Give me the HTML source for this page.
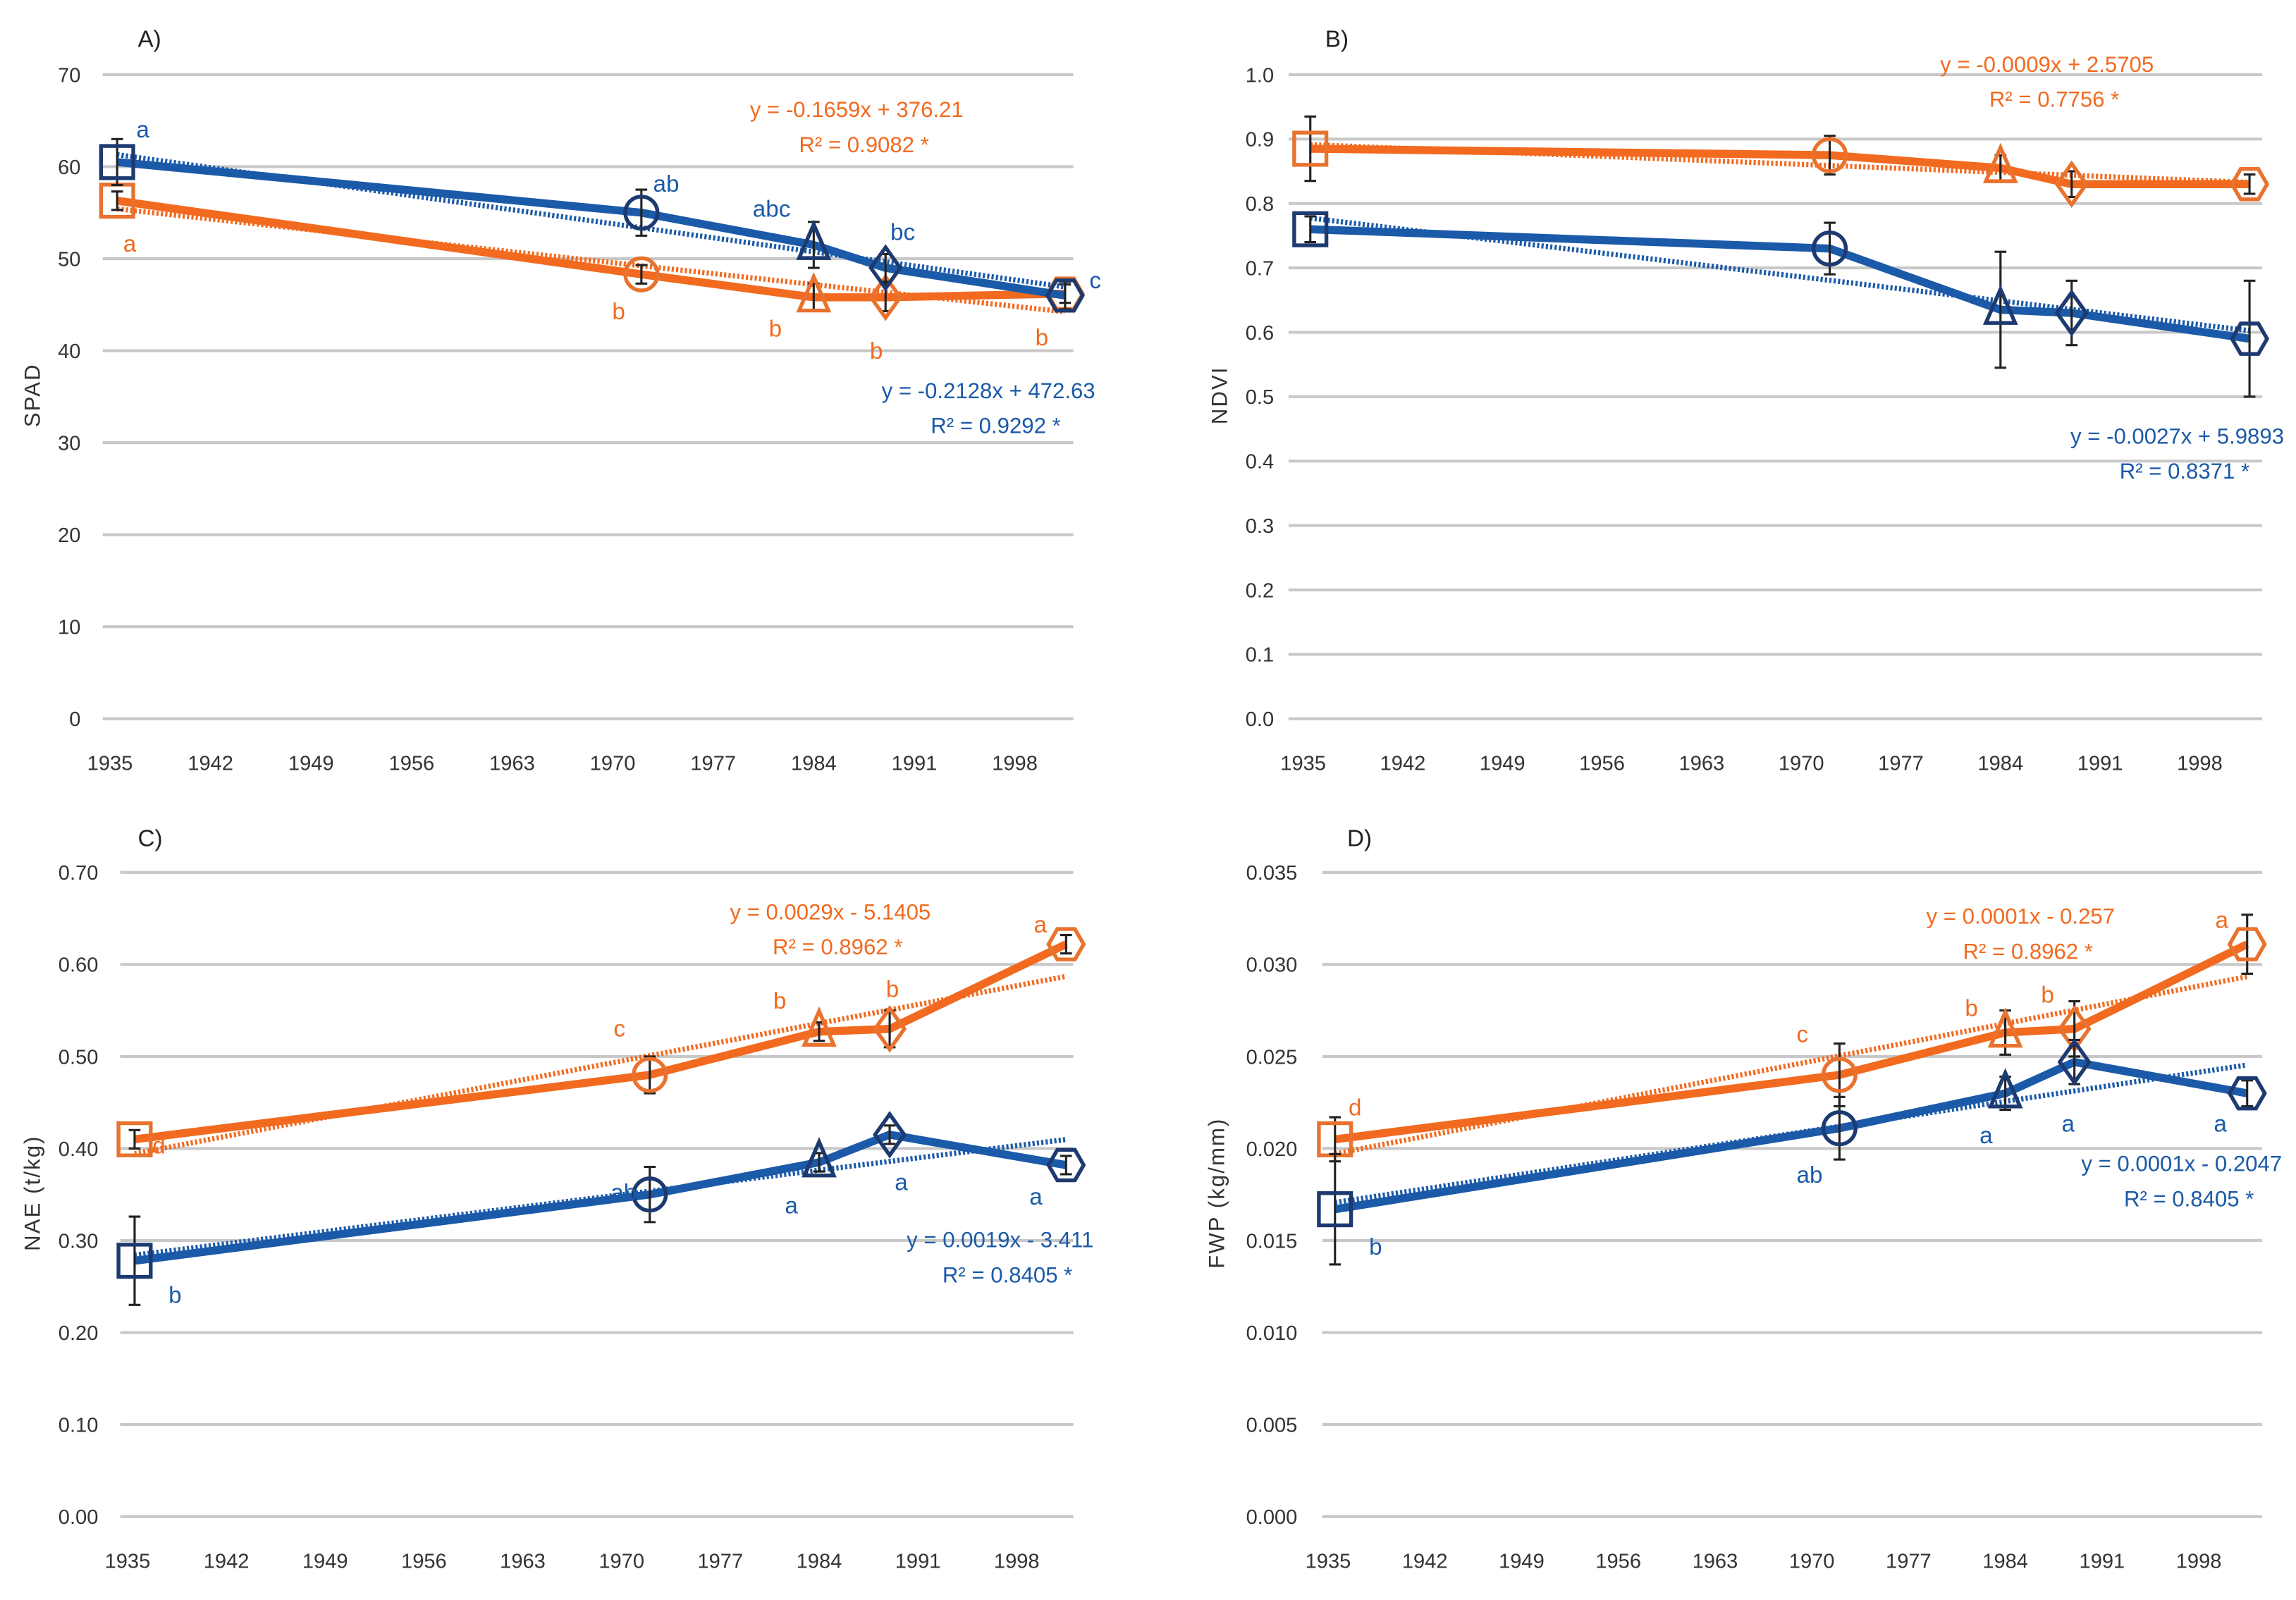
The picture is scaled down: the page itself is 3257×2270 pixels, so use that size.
<!DOCTYPE html>
<html><head><meta charset="utf-8"><style>
html,body{margin:0;padding:0;background:#fff;}
svg{display:block;}
text{font-family:"Liberation Sans",sans-serif;}
</style></head><body>
<svg id="chart" width="3257" height="2270" viewBox="0 0 1568 1093" xmlns="http://www.w3.org/2000/svg"></svg>
<script>
const years = [1935.5, 1972, 1984, 1989, 2001.5];
const xTicks = [1935, 1942, 1949, 1956, 1963, 1970, 1977, 1984, 1991, 1998];
const markerShapes = ['square','circle','triangle','diamond','hexagon'];

const spadBlue = [60.5, 55, 51.5, 49, 46];
const spadBlueErr = [2.5, 2.5, 2.5, 1.5, 1.5];
const spadOrange = [56.3, 48.3, 45.8, 45.8, 46.2];
const spadOrangeErr = [1, 1, 1.5, 1.5, 1];
const spadTicks = [0,10,20,30,40,50,60,70];

const ndviOrange = [0.885, 0.875, 0.855, 0.83, 0.83];
const ndviOrangeErr = [0.05, 0.03, 0.02, 0.02, 0.015];
const ndviBlue = [0.76, 0.73, 0.635, 0.63, 0.59];
const ndviBlueErr = [0.02, 0.04, 0.09, 0.05, 0.09];
const ndviTicks = [0.0,0.1,0.2,0.3,0.4,0.5,0.6,0.7,0.8,0.9,1.0];

const naeOrange = [0.41, 0.48, 0.527, 0.53, 0.622];
const naeOrangeErr = [0.01, 0.02, 0.01, 0.02, 0.01];
const naeBlue = [0.278, 0.35, 0.385, 0.415, 0.382];
const naeBlueErr = [0.048, 0.03, 0.01, 0.01, 0.01];
const naeTicks = [0,0.1,0.2,0.3,0.4,0.5,0.6,0.7];

const fwpOrange = [0.0205, 0.024, 0.0263, 0.0265, 0.0311];
const fwpOrangeErr = [0.0012, 0.0017, 0.0012, 0.0015, 0.0016];
const fwpBlue = [0.0167, 0.0211, 0.023, 0.0247, 0.023];
const fwpBlueErr = [0.003, 0.0017, 0.0009, 0.0012, 0.0007];
const fwpTicks = [0,0.005,0.01,0.015,0.02,0.025,0.03,0.035];

const BLUE='#1b5aa8', BLUE_M='#1d3a70', ORANGE='#f26a1f', ORANGE_M='#e8722e';
const NS='http://www.w3.org/2000/svg';
const svg=document.getElementById('chart');
function mk(tag,attrs,parent){const e=document.createElementNS(NS,tag);for(const k in attrs)e.setAttribute(k,attrs[k]);(parent||svg).appendChild(e);return e;}
function txt(s,x,y,size,fill,anchor,parent){const t=mk('text',{x:x,y:y,'font-size':size,fill:fill,'text-anchor':anchor||'start'},parent);t.textContent=s;return t;}

function fit(xs,ys){const n=xs.length;let sx=0,sy=0,sxx=0,sxy=0;for(let i=0;i<n;i++){sx+=xs[i];sy+=ys[i];sxx+=xs[i]*xs[i];sxy+=xs[i]*ys[i];}const b=(n*sxy-sx*sy)/(n*sxx-sx*sx);return [b,(sy-b*sx)/n];}

function marker(g,shape,cx,cy,color){
  const r=11;const a={fill:'none',stroke:color,'stroke-width':2.6};let e;
  if(shape==='square')e=mk('rect',Object.assign({x:cx-r,y:cy-r,width:2*r,height:2*r},a),g);
  else if(shape==='circle')e=mk('circle',Object.assign({cx:cx,cy:cy,r:r},a),g);
  else if(shape==='triangle')e=mk('polygon',Object.assign({points:`${cx},${cy-14} ${cx+10},${cy+9} ${cx-10},${cy+9}`},a),g);
  else if(shape==='diamond')e=mk('polygon',Object.assign({points:`${cx},${cy-14} ${cx+10},${cy} ${cx},${cy+14} ${cx-10},${cy}`},a),g);
  else {let p=[];for(let k=0;k<6;k++){const an=Math.PI/3*k;p.push((cx+12*Math.cos(an))+','+(cy+12*Math.sin(an)));}e=mk('polygon',Object.assign({points:p.join(' ')},a),g);}
  
  
}

function panel(cfg){
  const g=mk('g',{});
  
  
  const ymin=cfg.ticks[0],ymax=cfg.ticks[cfg.ticks.length-1];
  const X=y=>cfg.x0+(y-1935)*cfg.ppy;
  const Y=v=>cfg.yb-(v-ymin)/(ymax-ymin)*(cfg.yb-cfg.yt);
  cfg.ticks.forEach(t=>{
    const l=mk('line',{x1:cfg.gx1,x2:cfg.gx2,y1:Y(t),y2:Y(t),stroke:'#c8c8c8','stroke-width':2},g);
    
    
    const tl=txt(t.toFixed(cfg.dec),cfg.lx,Y(t)+5,14,'#333','end',g);
    
    
  });
  xTicks.forEach(t=>{
    const tl=txt(String(t),X(t),cfg.yb+35,14,'#333','middle',g);
    
    
  });
  const tt=txt(cfg.title,0,0,15,'#333','middle',g);
  tt.setAttribute('transform',`translate(${cfg.tx},${cfg.ty}) rotate(-90)`);
  tt.setAttribute('letter-spacing','1');
  
  
  const pl=txt(cfg.label,cfg.plx,cfg.ply,16,'#222','start',g);
  
  
  cfg.series.forEach(s=>{
    const [b,a]=fit(years,s.vals);
    const tr=mk('line',{x1:X(years[0]),y1:Y(a+b*years[0]),x2:X(years[4]),y2:Y(a+b*years[4]),stroke:s.color,'stroke-width':3.5,'stroke-dasharray':'1.5 1.5'},g);
    
    
    const pts=years.map((y,i)=>X(y)+','+Y(s.vals[i])).join(' ');
    const pl2=mk('polyline',{points:pts,fill:'none',stroke:s.color,'stroke-width':5.5,'stroke-linejoin':'round'},g);
    
    
    years.forEach((y,i)=>{
      const x=X(y),y1=Y(s.vals[i]+s.err[i]),y2=Y(s.vals[i]-s.err[i]);
      const eb=mk('path',{d:`M${x},${y1}V${y2}M${x-4},${y1}H${x+4}M${x-4},${y2}H${x+4}`,stroke:'#222','stroke-width':1.5,fill:'none'},g);
      
      
      marker(g,markerShapes[i],x,Y(s.vals[i]),s.mcolor);
    });
    s.letters.forEach(L=>{const t=txt(L[0],L[1],L[2],16,s.color,'start',g);
      
      });
    const e1=txt(s.eq[0],s.eq[2],s.eq[3],15,s.color,'middle',g);
    
    
    const e2=txt(s.eq[1],s.eq[2]+5,s.eq[3]+24,15,s.color,'middle',g);
    
    
  });
}

panel({name:'panel-a-spad',ticks:spadTicks,dec:0,x0:75,ppy:9.81,yt:51,yb:491,gx1:70,gx2:733,lx:55,title:'SPAD',tx:27,ty:270,label:'A)',plx:94,ply:32,
 series:[
  {vals:spadOrange,err:spadOrangeErr,color:ORANGE,mcolor:ORANGE_M,eq:['y = -0.1659x + 376.21','R² = 0.9082 *',585,80],
   letters:[['a',84,172],['b',418,218],['b',525,230],['b',594,245],['b',707,236]]},
  {vals:spadBlue,err:spadBlueErr,color:BLUE,mcolor:BLUE_M,eq:['y = -0.2128x + 472.63','R² = 0.9292 *',675,272],
   letters:[['a',93,94],['ab',446,131],['abc',514,148],['bc',608,164],['c',744,197]]}
 ]});
panel({name:'panel-b-ndvi',ticks:ndviTicks,dec:1,x0:890,ppy:9.72,yt:51,yb:491,gx1:880,gx2:1545,lx:870,title:'NDVI',tx:838,ty:270,label:'B)',plx:905,ply:32,
 series:[
  {vals:ndviOrange,err:ndviOrangeErr,color:ORANGE,mcolor:ORANGE_M,eq:['y = -0.0009x + 2.5705','R² = 0.7756 *',1398,49],letters:[]},
  {vals:ndviBlue,err:ndviBlueErr,color:BLUE,mcolor:BLUE_M,eq:['y = -0.0027x + 5.9893','R² = 0.8371 *',1487,303],letters:[]}
 ]});
panel({name:'panel-c-nae',ticks:naeTicks,dec:2,x0:87,ppy:9.64,yt:596,yb:1036,gx1:82,gx2:733,lx:67,title:'NAE (t/kg)',tx:27,ty:815,label:'C)',plx:94,ply:578,
 series:[
  {vals:naeOrange,err:naeOrangeErr,color:ORANGE,mcolor:ORANGE_M,eq:['y = 0.0029x - 5.1405','R² = 0.8962 *',567,628],
   letters:[['d',104,788],['c',419,708],['b',528,689],['b',605,681],['a',706,637]]},
  {vals:naeBlue,err:naeBlueErr,color:BLUE,mcolor:BLUE_M,eq:['y = 0.0019x - 3.411','R² = 0.8405 *',683,852],
   letters:[['b',115,890],['ab',417,820],['a',536,829],['a',611,813],['a',703,823]]}
 ]});
panel({name:'panel-d-fwp',ticks:fwpTicks,dec:3,x0:907,ppy:9.44,yt:596,yb:1036,gx1:903,gx2:1545,lx:886,title:'FWP (kg/mm)',tx:836,ty:815,label:'D)',plx:920,ply:578,
 series:[
  {vals:fwpOrange,err:fwpOrangeErr,color:ORANGE,mcolor:ORANGE_M,eq:['y = 0.0001x - 0.257','R² = 0.8962 *',1380,631],
   letters:[['d',921,762],['c',1227,712],['b',1342,694],['b',1394,685],['a',1513,634]]},
  {vals:fwpBlue,err:fwpBlueErr,color:BLUE,mcolor:BLUE_M,eq:['y = 0.0001x - 0.2047','R² = 0.8405 *',1490,800],
   letters:[['b',935,857],['ab',1227,808],['a',1352,781],['a',1408,773],['a',1512,773]]}
 ]});
</script>
</body></html>
